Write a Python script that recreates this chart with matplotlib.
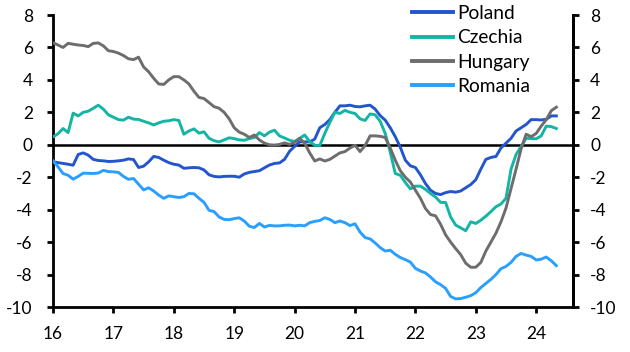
import matplotlib
matplotlib.use("Agg")
import matplotlib.pyplot as plt
import numpy as np

plt.rcParams['font.family'] = ['Lato', 'DejaVu Sans']
plt.rcParams['axes.unicode_minus'] = False

start_year = 2016
n_months = 101  # Jan 2016 .. May 2024

poland = [-1.05, -1.1, -1.15, -1.2, -1.26, -0.6, -0.5, -0.64, -0.9, -0.97,
          -0.99, -1.03, -1.02, -0.99, -0.95, -0.87, -0.91, -1.4, -1.32, -1.05,
          -0.72, -0.78, -0.95, -1.1, -1.2, -1.25, -1.45, -1.42, -1.4, -1.42,
          -1.55, -1.85, -1.95, -1.98, -1.95, -1.94, -1.94, -2.0, -1.8, -1.7,
          -1.65, -1.6, -1.42, -1.25, -1.15, -1.12, -0.9, -0.4, -0.1, 0.18,
          0.18, 0.18, 0.35, 1.05, 1.25, 1.55, 2.0, 2.4, 2.4, 2.44,
          2.36, 2.34, 2.4, 2.44, 2.2, 1.8, 1.52, 1.05, 0.5, -0.15,
          -0.95, -1.3, -1.4, -1.85, -2.39, -2.8, -3.0, -3.07, -2.95, -2.88,
          -2.92, -2.85, -2.65, -2.45, -2.15, -1.5, -0.9, -0.78, -0.72, -0.2,
          0.1, 0.4, 0.85, 1.05, 1.25, 1.55, 1.55, 1.53, 1.57, 1.78, 1.78]

czechia = [0.49, 0.68, 1.0, 0.75, 1.95, 1.78, 2.0, 2.07, 2.25, 2.44,
           2.2, 1.85, 1.7, 1.55, 1.52, 1.7, 1.58, 1.56, 1.45, 1.35,
           1.22, 1.35, 1.45, 1.48, 1.55, 1.5, 0.65, 0.85, 0.98, 0.72,
           0.8, 0.4, 0.25, 0.18, 0.3, 0.43, 0.38, 0.3, 0.28, 0.38,
           0.45, 0.75, 0.55, 0.78, 0.9, 0.55, 0.42, 0.28, 0.2, 0.4,
           0.6, 0.2, -0.03, -0.05, 0.7, 1.38, 2.0, 1.93, 2.12, 2.0,
           1.93, 1.6, 1.5, 1.9, 1.85, 1.45, 0.7, -0.45, -1.77, -1.88,
           -2.33, -2.72, -2.55, -2.55, -2.75, -3.0, -3.22, -3.55, -3.56, -4.45,
           -4.95, -5.12, -5.3, -4.75, -4.85, -4.65, -4.4, -4.12, -3.82, -3.65,
           -3.3, -1.5, -0.6, -0.1, 0.4, 0.38, 0.37, 0.55, 1.15, 1.12, 1.0]

hungary = [6.29, 6.15, 6.0, 6.25, 6.2, 6.15, 6.12, 6.05, 6.25, 6.28,
           6.1, 5.8, 5.75, 5.65, 5.5, 5.3, 5.25, 5.4, 4.8, 4.5,
           4.1, 3.75, 3.72, 4.0, 4.2, 4.2, 4.0, 3.75, 3.3, 2.92,
           2.85, 2.6, 2.35, 2.25, 2.0, 1.6, 1.05, 0.78, 0.65, 0.45,
           0.6, 0.3, 0.1, 0.0, -0.02, 0.02, 0.12, 0.02, 0.15, 0.39,
           0.1, -0.5, -1.0, -0.87, -1.0, -0.9, -0.7, -0.5, -0.42, -0.2,
           -0.03, -0.42, -0.05, 0.55, 0.55, 0.52, 0.45, -0.2, -0.95, -1.6,
           -2.0, -2.3, -2.8, -3.3, -3.93, -4.3, -4.38, -4.9, -5.55, -6.0,
           -6.4, -6.77, -7.3, -7.55, -7.55, -7.25, -6.55, -6.0, -5.45, -4.75,
           -3.9, -2.7, -1.5, -0.25, 0.65, 0.5, 0.7, 1.15, 1.55, 2.1, 2.32]

romania = [-0.99, -1.36, -1.77, -1.88, -2.12, -1.95, -1.75, -1.76, -1.77, -1.74,
           -1.58, -1.65, -1.67, -1.7, -1.95, -2.13, -2.08, -2.43, -2.78, -2.65,
           -2.85, -3.1, -3.3, -3.15, -3.2, -3.25, -3.2, -3.0, -3.02, -3.3,
           -3.55, -4.04, -4.12, -4.45, -4.6, -4.62, -4.55, -4.5, -4.7, -5.02,
           -5.1, -4.85, -5.07, -4.97, -5.0, -5.0, -4.96, -4.95, -5.0, -4.96,
           -5.0, -4.8, -4.72, -4.67, -4.5, -4.6, -4.8, -4.7, -4.8, -4.98,
           -4.87, -5.38, -5.72, -5.8, -6.05, -6.34, -6.55, -6.5, -6.75, -6.95,
           -7.08, -7.23, -7.62, -7.78, -7.9, -8.15, -8.45, -8.62, -8.85, -9.35,
           -9.5, -9.48, -9.4, -9.3, -9.12, -8.8, -8.55, -8.3, -8.0, -7.64,
           -7.5, -7.25, -6.88, -6.7, -6.8, -6.88, -7.1, -7.05, -6.92, -7.15, -7.45]

series_names = ["Poland", "Czechia", "Hungary", "Romania"]
series_colors = ["#2356CC", "#14B5A5", "#6D6D6D", "#2B9FFF"]

x_ticks = [16, 17, 18, 19, 20, 21, 22, 23, 24]
y_ticks = [8, 6, 4, 2, 0, -2, -4, -6, -8, -10]

x = 16 + np.arange(n_months) / 12.0

fig = plt.figure(figsize=(6.3, 3.52), dpi=100)
ax = fig.add_axes([53/630, 1 - 307/352, (572.7 - 53)/630, (307 - 15)/352])

for vals, name, col in zip([poland, czechia, hungary, romania], series_names, series_colors):
    ax.plot(x, vals, color=col, lw=2.1, label=name, solid_joinstyle='round', zorder=3)

ax.axhline(0, color='black', lw=1.8, zorder=2)

ax.set_xlim(16, 16 + (572.7 - 53) / 60.4)
ax.set_ylim(-10, 8)
ax.set_xticks(x_ticks)
ax.set_xticklabels([str(t) for t in x_ticks])
ax.set_yticks(y_ticks)
ax.set_yticklabels([str(t) for t in y_ticks])

for s in ['left', 'right', 'bottom']:
    ax.spines[s].set_linewidth(2.0)
    ax.spines[s].set_color('black')
ax.spines['top'].set_visible(False)

ax.tick_params(axis='y', direction='out', length=4.5, width=2.0, labelsize=12.5, colors='black', pad=10)
ax.tick_params(axis='x', direction='out', length=4.5, width=2.0, labelsize=12.5, colors='black', pad=9)

ax2 = ax.twinx()
ax2.set_ylim(-10, 8)
ax2.set_yticks(y_ticks)
ax2.set_yticklabels([str(t) for t in y_ticks])
ax2.spines['top'].set_visible(False)
ax2.spines['right'].set_linewidth(2.0)
ax2.spines['left'].set_visible(False)
ax2.spines['bottom'].set_visible(False)
ax2.tick_params(axis='y', direction='out', length=4.5, width=2.0, labelsize=12.5, colors='black', pad=8)

leg = ax.legend(loc='upper left', bbox_to_anchor=(412/630, 1 - 5/352), bbox_transform=fig.transFigure,
                frameon=False, fontsize=13.8, handlelength=2.15, handletextpad=0.2,
                labelspacing=0.38, borderpad=0, borderaxespad=0)
for line in leg.get_lines():
    line.set_linewidth(2.8)

fig.savefig("out.png", dpi=100)
